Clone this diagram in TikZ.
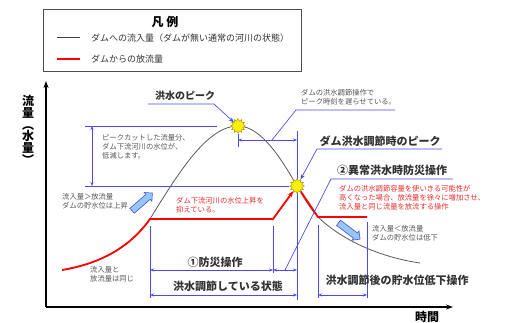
\documentclass[tikz,border=0pt]{standalone}
\usepackage{fontspec}
\newfontfamily\jp{Noto Sans CJK JP}
\usetikzlibrary{arrows.meta,shapes.geometric,shapes.arrows,backgrounds}
\definecolor{dimblue}{RGB}{75,75,235}
\definecolor{notegray}{RGB}{85,85,85}
\definecolor{notered}{RGB}{232,45,45}
\definecolor{arrowfill}{RGB}{150,200,245}
\begin{document}
\begin{tikzpicture}[x=1pt, y=-1pt, font=\jp,
  dim line/.style={draw=dimblue, line width=0.7pt},
  dim arrow/.style={dim line, {Stealth[length=4pt,width=3pt]}-{Stealth[length=4pt,width=3pt]}},
  note/.style={text=notegray, font=\jp\fontsize{7.3}{9}\selectfont, align=left, inner sep=0pt, anchor=north west},
  red note/.style={note, text=notered},
  big label/.style={font=\jp\bfseries\fontsize{11}{13}\selectfont, text=black!80, inner sep=0pt},
  peak node/.style={star, star points=12, star point ratio=1.5, minimum size=15pt, inner sep=0pt, fill=yellow, draw=olive!70!orange, line width=0.4pt},
  fat arrow/.style={single arrow, draw=dimblue, fill=arrowfill, minimum height=27pt, inner sep=3pt, single arrow head extend=2.5pt, line width=0.6pt}]
\useasboundingbox (0,0) rectangle (509,323);
% legend
\node[draw=black!70, line width=0.8pt, minimum width=258pt, minimum height=62pt, anchor=north west] (legend) at (43,9) {};
\node[font=\jp\bfseries\fontsize{12}{14}\selectfont] (legend title) at (165,22) {凡\ 例};
\coordinate (in a) at (57,38);
\coordinate (in b) at (80,38);
\coordinate (out a) at (57,59);
\coordinate (out b) at (80,59);
\draw[black!75, line width=1pt] (in a) -- (in b);
\draw[draw=red, line width=1.3pt] (out a) -- (out b);
\begin{scope}[every node/.style={anchor=west, font=\jp\fontsize{9}{11}\selectfont, text=black!80, inner sep=0pt}]
\node (in text) at (91,38) {ダムへの流入量（ダムが無い通常の河川の状態）};
\node (out text) at (91,59) {ダムからの放流量};
\end{scope}
% axes
\coordinate (origin) at (46,307);
\coordinate (y top) at (46,81);
\coordinate (x end) at (453,307);
\draw[-{Stealth[length=7pt,width=5pt]}, line width=1.3pt] (origin) -- (y top);
\draw[-{Stealth[length=7pt,width=5pt]}, line width=1.3pt] (origin) -- (x end);
\node[font=\jp\bfseries\fontsize{12}{11.7}\selectfont, align=center, inner sep=0pt] (y label) at (28,130) {流\\量\\︵\\水\\量\\︶};
\node[font=\jp\bfseries\fontsize{12}{14}\selectfont, inner sep=0pt] (x label) at (427,317) {時間};
% peaks
\node[peak node] (peak1) at (238,126) {};
\node[peak node] (peak2) at (297,186) {};
\coordinate (start) at (62,270);
\coordinate (cut start) at (150,219);
\coordinate (cut end) at (273,219);
\coordinate (drop end) at (318,217);
\coordinate (release end) at (367,217);
\coordinate (tail) at (420,263);
\begin{scope}[on background layer]
\draw[black!65, line width=0.8pt] (start) .. controls (110,262) and (135,240) .. (cut start)
  .. controls (180,170) and (208,126) .. (peak1.center) .. controls (262,126) and (283,162) .. (peak2.center)
  .. controls (305,200) and (312,211) .. (drop end) .. controls (345,243) and (385,258) .. (tail);
\draw[red, line width=1.8pt, -{Stealth[length=6pt,width=5pt]}] (start) .. controls (110,262) and (135,240) .. (cut start) -- (cut end) -- (peak2);
\draw[red, line width=1.8pt] (peak2.center) -- (drop end) -- (release end);
% dimension lines
\draw[dim line] (85,126) -- (217,126);
\draw[dim line] (85,186) -- (289,186);
\draw[dim arrow] (92,126) -- (92,186);
\draw[dim line] (238,134) -- (238,147);
\draw[dim line] (297,131) -- (297,300);
\draw[dim arrow] (238,140) -- (297,140);
\draw[dim line] (150,226) -- (150,298);
\draw[dim line] (273,226) -- (273,273);
\draw[dim line] (318,225) -- (318,298);
\draw[dim line] (367,222) -- (367,298);
\draw[dim arrow] (150,270) -- (273,270);
\draw[dim arrow] (273,270) -- (297,270);
\draw[dim arrow] (150,295) -- (297,295);
\draw[dim arrow] (318,295) -- (367,295);
\end{scope}
% labels and leaders
\node[big label, font=\jp\bfseries\fontsize{10}{12}\selectfont] (flood peak) at (185,96) {洪水のピーク};
\draw[dim line, -{Stealth[length=5pt,width=4pt]}] (148,104) -- (214,104) -- (peak1);
\node[note] (delay text) at (301,89) {ダムの洪水調節操作で\\ピーク時刻を遅らせている。};
\draw[dim line] (272,140) -- (296,110) -- (395,110);
\node[big label] (dam peak) at (380,141) {ダム洪水調節時のピーク};
\draw[dim line, -{Stealth[length=5pt,width=4pt]}] (442,149) -- (317,149) -- (peak2);
\node[big label] (special op) at (392,170) {②異常洪水時防災操作};
\draw[dim line] (453,179) -- (331,179) -- (285,270);
\node[red note] (special text) at (339,185) {ダムの洪水調節容量を使いきる可能性が\\高くなった場合、放流量を徐々に増加させ、\\流入量と同じ流量を放流する操作};
\node[red note] (cut text) at (176,197) {ダム下流河川の水位上昇を\\抑えている。};
\node[note] (lower text) at (102,134) {ピークカットした流量分、\\ダム下流河川の水位が、\\低減します。};
\node[note] (rise text) at (62,193) {流入量＞放流量\\ダムの貯水位は上昇};
\node[note] (fall text) at (372,225) {流入量＜放流量\\ダムの貯水位は低下};
\node[note] (same text) at (90,266) {流入量と\\放流量は同じ};
\node[fat arrow, rotate=41] (rise arrow) at (141,203) {};
\node[fat arrow, rotate=-37] (fall arrow) at (348,230) {};
\node[big label] (op one) at (215,262) {①防災操作};
\node[big label] (control state) at (228,286) {洪水調節している状態};
\node[big label] (after op) at (397,280) {洪水調節後の貯水位低下操作};
\end{tikzpicture}
\end{document}
